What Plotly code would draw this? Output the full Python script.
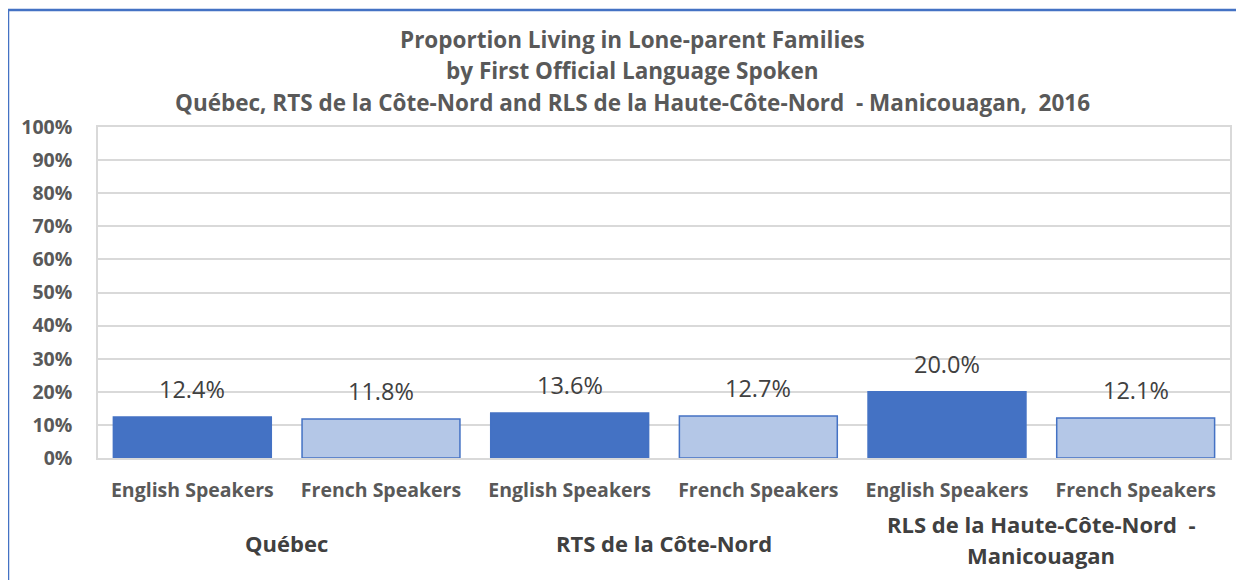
import plotly.graph_objects as go

# ---- data ----
groups = ["Québec", "RTS de la Côte-Nord", "RLS de la Haute-Côte-Nord  -<br>Manicouagan"]
speakers = ["English Speakers", "French Speakers"]
english_values = [12.4, 13.6, 20.0]
french_values = [11.8, 12.7, 12.1]
y_ticks = [0, 10, 20, 30, 40, 50, 60, 70, 80, 90, 100]
title_lines = [
    "Proportion Living in Lone-parent Families",
    "by First Official Language Spoken",
    "Québec, RTS de la Côte-Nord and RLS de la Haute-Côte-Nord  - Manicouagan,  2016",
]

# build the sequence of bars
x_idx, vals, labels, colors = [], [], [], []
for gi, g in enumerate(groups):
    for si, s in enumerate(speakers):
        x_idx.append(gi * 2 + si)
        vals.append(english_values[gi] if si == 0 else french_values[gi])
        labels.append(s)
        colors.append("#4472C4" if si == 0 else "#B4C7E7")

FONT = "Open Sans"
GRAY = "#595959"

fig = go.Figure()
fig.add_trace(go.Bar(
    x=x_idx, y=vals,
    marker=dict(color=colors, line=dict(color="#4472C4", width=1.5)),
    hoverinfo="skip",
))

OFF = 8  # page body margin
W, H = 1244 - OFF, 580 - OFF
L, R, T, B = 98 - OFF, 14, 127 - OFF, 122
pw, ph = W - L - R, H - T - B

def px_x(px):
    return (px - OFF - L) / pw

def px_y(py):
    return (H - B - (py - OFF)) / ph

annotations = []
# data labels
for xi, v in zip(x_idx, vals):
    annotations.append(dict(
        x=xi, y=v, xref="x", yref="y", text=f"{v:.1f}%", showarrow=False,
        yanchor="middle", yshift=28,
        font=dict(family=FONT, size=23.5, color="#404040"),
    ))
# group labels
for gi, g in enumerate(groups):
    parts = g.split("<br>")
    ys = [543] if len(parts) == 1 else [524, 555]
    for part, py in zip(parts, ys):
        annotations.append(dict(
            x=gi * 2 + 0.5, y=px_y(py), xref="x", yref="paper", text=part, showarrow=False,
            yanchor="middle", xanchor="center",
            font=dict(family=FONT, size=22, color="#404040", weight="bold"),
        ))
# title lines
for line, py in zip(title_lines, [39, 70, 102]):
    annotations.append(dict(
        x=px_x(632), y=px_y(py), xref="paper", yref="paper", text=f"<b>{line}</b>",
        showarrow=False, xanchor="center", yanchor="middle",
        font=dict(family=FONT, size=22.5, color=GRAY),
    ))

shapes = [
    dict(type="line", xref="paper", yref="paper", x0=px_x(8), x1=px_x(8),
         y0=px_y(10), y1=px_y(590), line=dict(color="#4472C4", width=2.5)),
    dict(type="line", xref="paper", yref="paper", x0=px_x(8), x1=px_x(1250),
         y0=px_y(10), y1=px_y(10), line=dict(color="#4472C4", width=2.5)),
]

fig.update_layout(
    width=W, height=H,
    margin=dict(l=L, r=R, t=T, b=B, pad=0),
    paper_bgcolor="white", plot_bgcolor="white",
    showlegend=False,
    bargap=0.163,
    annotations=annotations,
    shapes=shapes,
    xaxis=dict(
        range=[-0.5, 5.5], tickmode="array", tickvals=x_idx, ticktext=labels,
        tickfont=dict(family=FONT, size=19.5, color=GRAY, weight="bold"),
        showgrid=False, zeroline=False,
        showline=True, mirror=True, linecolor="#D9D9D9", linewidth=1.5,
        ticks="outside", ticklen=14, tickcolor="rgba(0,0,0,0)",
    ),
    yaxis=dict(
        range=[0, 100], tickmode="array", tickvals=y_ticks,
        ticktext=[f"{t}%" for t in y_ticks],
        tickfont=dict(family=FONT, size=19.5, color=GRAY, weight="bold"),
        showgrid=True, gridcolor="#D9D9D9", gridwidth=1.5, zeroline=False,
        showline=True, mirror=True, linecolor="#D9D9D9", linewidth=1.5,
        ticks="outside", ticklen=20, tickcolor="rgba(0,0,0,0)",
    ),
)

fig.write_html("out.html")
